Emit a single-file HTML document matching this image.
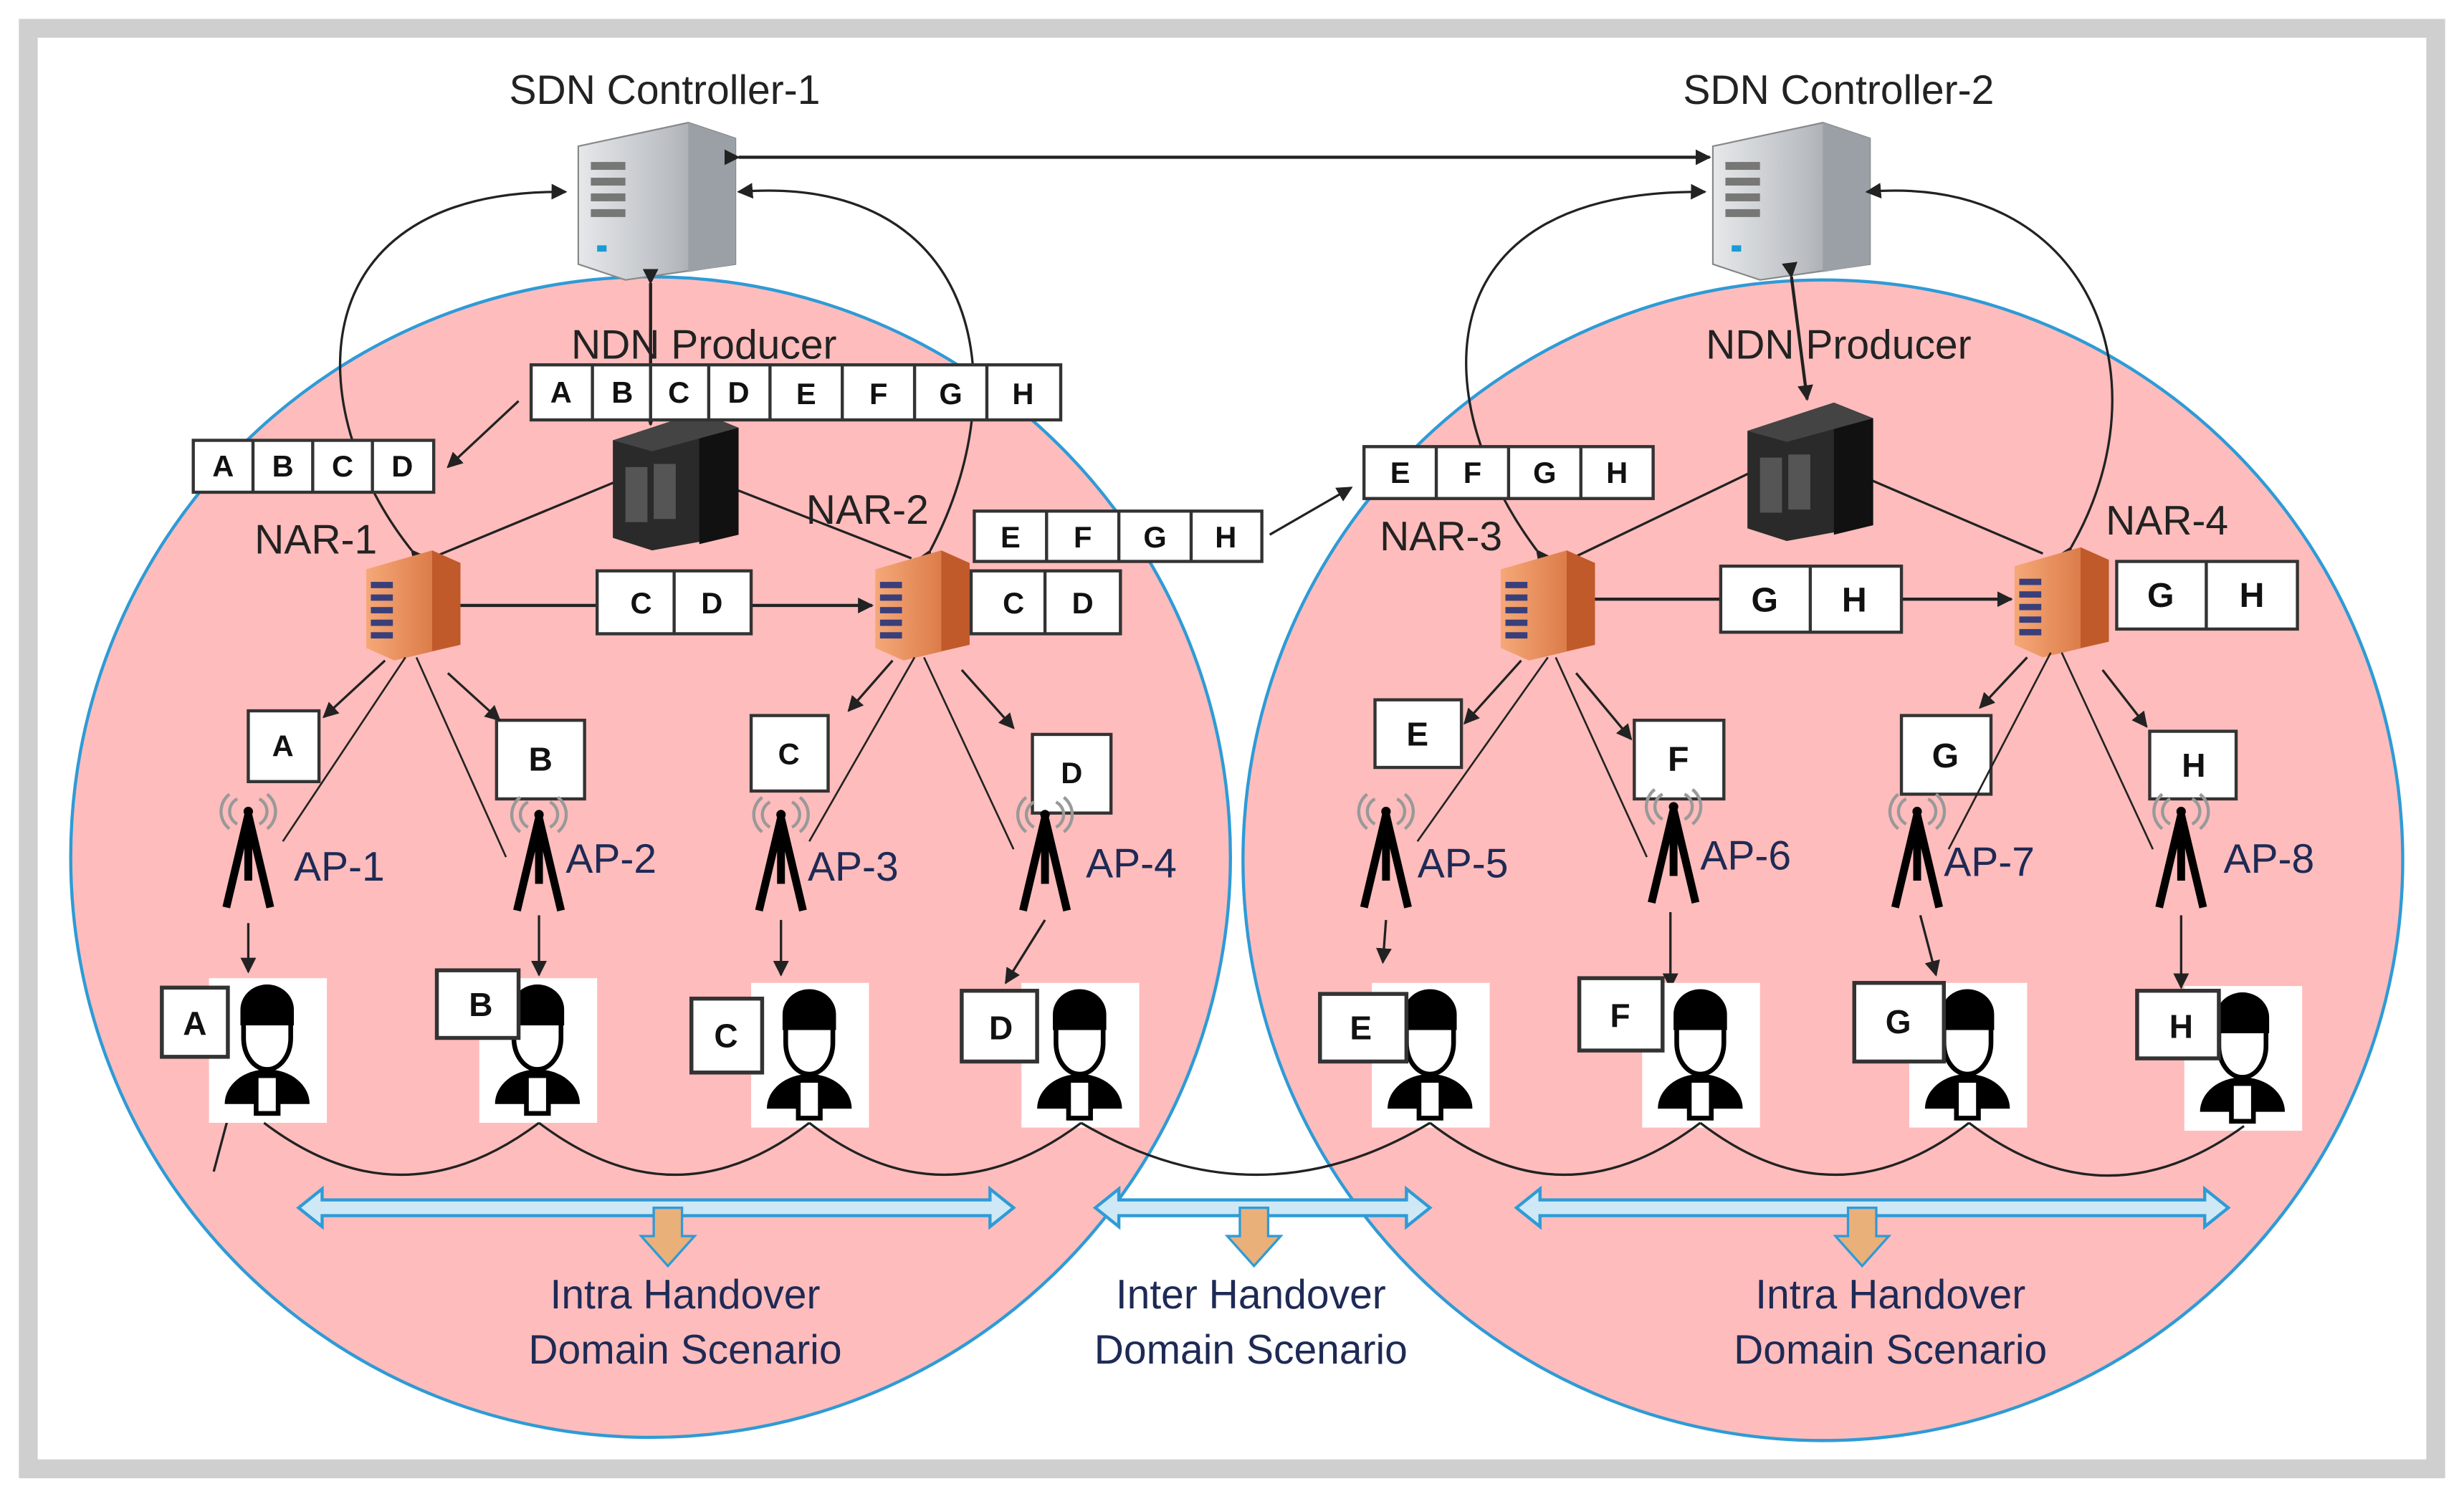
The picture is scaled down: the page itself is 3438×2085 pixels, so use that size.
<!DOCTYPE html>
<html><head><meta charset="utf-8">
<style>
html,body{margin:0;padding:0;background:#fff;}
svg{display:block;}
text{font-family:"Liberation Sans",Arial,sans-serif;}
</style></head>
<body>
<svg width="3438" height="2085" viewBox="0 0 1568 950" preserveAspectRatio="none" xmlns="http://www.w3.org/2000/svg">
<defs>
<marker id="ah" markerWidth="10" markerHeight="10" refX="9" refY="5" orient="auto" markerUnits="userSpaceOnUse">
<path d="M0,0 L10,5 L0,10 z" fill="#222"/></marker>
<linearGradient id="srv" x1="0" x2="1"><stop offset="0" stop-color="#e6e8ea"/><stop offset="0.6" stop-color="#b9bdc2"/><stop offset="1" stop-color="#8d9298"/></linearGradient>
<linearGradient id="org" x1="0" x2="1"><stop offset="0" stop-color="#f6a878"/><stop offset="1" stop-color="#d06a36"/></linearGradient>
<g id="sdn">
<path d="M0,15 L70,0 L100,10 L100,90 L30,100 L0,90 z" fill="url(#srv)" stroke="#888" stroke-width="1"/>
<path d="M70,0 L100,10 L100,90 L70,95 z" fill="#9aa0a6"/>
<rect x="8" y="25" width="22" height="5" fill="#777"/><rect x="8" y="35" width="22" height="5" fill="#777"/><rect x="8" y="45" width="22" height="5" fill="#777"/><rect x="8" y="55" width="22" height="5" fill="#777"/>
<rect x="12" y="78" width="6" height="4" fill="#1a9ad6"/>
</g>
<g id="blk">
<path d="M0,18 L55,0 L80,10 L80,78 L25,88 L0,80 z" fill="#2a2a2a"/>
<path d="M55,0 L80,10 L80,78 L55,84 z" fill="#111"/>
<path d="M0,18 L55,0 L80,10 L25,25 z" fill="#444"/>
<rect x="8" y="35" width="14" height="35" fill="#555"/><rect x="26" y="33" width="14" height="35" fill="#555"/>
</g>
<g id="nar">
<path d="M0,12 L42,0 L60,8 L60,60 L18,70 L0,62 z" fill="url(#org)"/>
<path d="M42,0 L60,8 L60,60 L42,64 z" fill="#c05a2a"/>
<rect x="3" y="20" width="14" height="4" fill="#3a3f7a"/><rect x="3" y="28" width="14" height="4" fill="#3a3f7a"/><rect x="3" y="36" width="14" height="4" fill="#3a3f7a"/><rect x="3" y="44" width="14" height="4" fill="#3a3f7a"/><rect x="3" y="52" width="14" height="4" fill="#3a3f7a"/>
</g>
<g id="tow">
<path d="M-12,-25 a14,14 0 0 0 0,22 M12,-25 a14,14 0 0 1 0,22 M-7,-22 a9,9 0 0 0 0,16 M7,-22 a9,9 0 0 1 0,16" fill="none" stroke="#999" stroke-width="2"/>
<circle cx="0" cy="-14" r="3" fill="#000"/>
<path d="M0,-12 L-14,47 M0,-12 L14,47 M0,-12 L0,30" stroke="#000" stroke-width="5" fill="none"/>
</g>
<g id="usr">
<rect x="0" y="0" width="75" height="92" fill="#fff"/>
<path d="M22,30 a15,18 0 0 1 30,0 l0,8 a15,20 0 0 1 -30,0 z" fill="#fff" stroke="#000" stroke-width="3"/>
<path d="M22,32 a15,20 0 0 1 30,0 l0,-2 a15,10 0 0 0 -30,0 z" fill="#000"/>
<path d="M20,20 a17,16 0 0 1 34,0 l0,10 l-34,0 z" fill="#000"/>
<path d="M10,80 a27,22 0 0 1 54,0 z" fill="#000"/>
<rect x="30" y="62" width="14" height="24" fill="#fff" stroke="#000" stroke-width="3"/>
</g>
</defs>

<rect x="0" y="0" width="1568" height="950" fill="#fff"/>
<rect x="18" y="18" width="1532" height="916" fill="#fff" stroke="#cfcfcf" stroke-width="12"/>

<circle cx="414" cy="545" r="369" fill="#ffbcbc" stroke="#2e9bd6" stroke-width="2"/>
<circle cx="1160" cy="547" r="369" fill="#ffbcbc" stroke="#2e9bd6" stroke-width="2"/>

<!-- SDN controllers -->
<text x="423" y="66" font-size="26" text-anchor="middle" fill="#222">SDN Controller-1</text>
<text x="1170" y="66" font-size="26" text-anchor="middle" fill="#222">SDN Controller-2</text>
<use href="#sdn" x="368" y="78"/>
<use href="#sdn" x="1090" y="78"/>
<line x1="470" y1="100" x2="1088" y2="100" stroke="#222" stroke-width="2" marker-start="url(#ah)" marker-end="url(#ah)"/>

<!-- curved SDN arrows -->
<path d="M262,350 C190,260 190,120 360,122" fill="none" stroke="#222" stroke-width="1.5" marker-start="url(#ah)" marker-end="url(#ah)"/>
<path d="M592,350 C650,240 620,110 470,122" fill="none" stroke="#222" stroke-width="1.5" marker-start="url(#ah)" marker-end="url(#ah)"/>
<path d="M978,350 C910,260 900,120 1085,122" fill="none" stroke="#222" stroke-width="1.5" marker-start="url(#ah)" marker-end="url(#ah)"/>
<path d="M1318,348 C1380,240 1330,110 1188,122" fill="none" stroke="#222" stroke-width="1.5" marker-start="url(#ah)" marker-end="url(#ah)"/>
<line x1="414" y1="180" x2="414" y2="270" stroke="#222" stroke-width="2" marker-start="url(#ah)" marker-end="url(#ah)"/>
<line x1="1140" y1="176" x2="1150" y2="254" stroke="#222" stroke-width="2" marker-start="url(#ah)" marker-end="url(#ah)"/>

<text x="448" y="228" font-size="26" text-anchor="middle" fill="#222">NDN Producer</text>
<text x="1170" y="228" font-size="26" text-anchor="middle" fill="#222">NDN Producer</text>

<!-- producer lines -->
<line x1="395" y1="305" x2="262" y2="360" stroke="#222" stroke-width="1.5"/>
<line x1="465" y1="310" x2="580" y2="355" stroke="#222" stroke-width="1.5"/>
<line x1="1115" y1="300" x2="990" y2="360" stroke="#222" stroke-width="1.5"/>
<line x1="1190" y1="305" x2="1300" y2="352" stroke="#222" stroke-width="1.5"/>
<use href="#blk" x="390" y="262"/>
<use href="#blk" x="1112" y="256"/>

<!-- NARs -->
<text x="162" y="352" font-size="26" fill="#222">NAR-1</text>
<text x="513" y="333" font-size="26" fill="#222">NAR-2</text>
<text x="878" y="350" font-size="26" fill="#222">NAR-3</text>
<text x="1340" y="340" font-size="26" fill="#222">NAR-4</text>
<line x1="293" y1="385" x2="555" y2="385" stroke="#222" stroke-width="2" marker-end="url(#ah)"/>
<line x1="1015" y1="381" x2="1280" y2="381" stroke="#222" stroke-width="2" marker-end="url(#ah)"/>
<use href="#nar" x="233" y="350"/>
<use href="#nar" x="557" y="350"/>
<use href="#nar" x="955" y="350"/>
<use href="#nar" x="1282" y="348"/>

<!-- letter box groups -->
<g fill="#fff" stroke="#333" stroke-width="2" font-size="18" font-weight="bold">
<rect x="338" y="232" width="337" height="35"/>
<line x1="377" y1="232" x2="377" y2="267"/><line x1="414" y1="232" x2="414" y2="267"/><line x1="451" y1="232" x2="451" y2="267"/><line x1="490" y1="232" x2="490" y2="267"/><line x1="536" y1="232" x2="536" y2="267"/><line x1="582" y1="232" x2="582" y2="267"/><line x1="628" y1="232" x2="628" y2="267"/>
<rect x="123" y="280" width="153" height="33"/>
<line x1="161" y1="280" x2="161" y2="313"/><line x1="199" y1="280" x2="199" y2="313"/><line x1="237" y1="280" x2="237" y2="313"/>
<rect x="380" y="363" width="98" height="40"/><line x1="429" y1="363" x2="429" y2="403"/>
<rect x="618" y="363" width="95" height="40"/><line x1="665" y1="363" x2="665" y2="403"/>
<rect x="620" y="325" width="183" height="32"/>
<line x1="666" y1="325" x2="666" y2="357"/><line x1="712" y1="325" x2="712" y2="357"/><line x1="758" y1="325" x2="758" y2="357"/>
<rect x="868" y="284" width="184" height="33"/>
<line x1="914" y1="284" x2="914" y2="317"/><line x1="960" y1="284" x2="960" y2="317"/><line x1="1006" y1="284" x2="1006" y2="317"/>
<rect x="1095" y="360" width="115" height="42"/><line x1="1152" y1="360" x2="1152" y2="402"/>
<rect x="1347" y="357" width="115" height="43"/><line x1="1404" y1="357" x2="1404" y2="400"/>
<rect x="158" y="452" width="45" height="45"/>
<rect x="316" y="458" width="56" height="50"/>
<rect x="478" y="455" width="49" height="48"/>
<rect x="657" y="467" width="50" height="50"/>
<rect x="875" y="445" width="55" height="43"/>
<rect x="1040" y="458" width="57" height="50"/>
<rect x="1210" y="455" width="57" height="50"/>
<rect x="1368" y="465" width="55" height="43"/>
</g>
<g font-size="19" font-weight="bold" fill="#111" text-anchor="middle">
<text x="357" y="256">A</text><text x="396" y="256">B</text><text x="432" y="256">C</text><text x="470" y="256">D</text><text x="513" y="257">E</text><text x="559" y="257">F</text><text x="605" y="257">G</text><text x="651" y="257">H</text>
<text x="142" y="303">A</text><text x="180" y="303">B</text><text x="218" y="303">C</text><text x="256" y="303">D</text>
<text x="408" y="390">C</text><text x="453" y="390">D</text>
<text x="645" y="390">C</text><text x="689" y="390">D</text>
<text x="643" y="348">E</text><text x="689" y="348">F</text><text x="735" y="348">G</text><text x="780" y="348">H</text>
<text x="891" y="307">E</text><text x="937" y="307">F</text><text x="983" y="307">G</text><text x="1029" y="307">H</text>
<text x="1123" y="389" font-size="22">G</text><text x="1180" y="389" font-size="22">H</text>
<text x="1375" y="386" font-size="22">G</text><text x="1433" y="386" font-size="22">H</text>
<text x="180" y="481">A</text><text x="344" y="490" font-size="21">B</text><text x="502" y="486">C</text><text x="682" y="498">D</text>
<text x="902" y="474" font-size="21">E</text><text x="1068" y="490" font-size="22">F</text><text x="1238" y="488" font-size="22">G</text><text x="1396" y="494" font-size="21">H</text>
</g>
<!-- small arrows -->
<g stroke="#222" stroke-width="1.5" marker-end="url(#ah)">
<line x1="330" y1="255" x2="285" y2="297"/>
<line x1="808" y1="340" x2="860" y2="310"/>
<line x1="245" y1="420" x2="206" y2="456"/><line x1="285" y1="428" x2="318" y2="458"/>
<line x1="568" y1="420" x2="540" y2="452"/><line x1="612" y1="426" x2="645" y2="463"/>
<line x1="968" y1="420" x2="932" y2="460"/><line x1="1003" y1="428" x2="1038" y2="470"/>
<line x1="1290" y1="418" x2="1260" y2="450"/><line x1="1338" y1="426" x2="1366" y2="462"/>
<line x1="158" y1="587" x2="158" y2="618"/><line x1="343" y1="582" x2="343" y2="620"/><line x1="497" y1="585" x2="497" y2="620"/><line x1="665" y1="585" x2="640" y2="625"/>
<line x1="882" y1="585" x2="880" y2="612"/><line x1="1063" y1="580" x2="1063" y2="628"/><line x1="1222" y1="582" x2="1232" y2="620"/><line x1="1388" y1="582" x2="1388" y2="628"/>
<line x1="136" y1="745" x2="148" y2="700"/>
</g>
<!-- NAR to AP lines -->
<g stroke="#222" stroke-width="1.2">
<line x1="258" y1="418" x2="180" y2="535"/><line x1="265" y1="418" x2="322" y2="545"/>
<line x1="582" y1="418" x2="515" y2="535"/><line x1="588" y1="418" x2="645" y2="540"/>
<line x1="985" y1="418" x2="902" y2="535"/><line x1="990" y1="418" x2="1048" y2="545"/>
<line x1="1305" y1="415" x2="1240" y2="540"/><line x1="1312" y1="415" x2="1370" y2="540"/>
</g>
<!-- towers -->
<use href="#tow" x="158" y="530"/><use href="#tow" x="343" y="532"/><use href="#tow" x="497" y="532"/><use href="#tow" x="665" y="532"/>
<use href="#tow" x="882" y="530"/><use href="#tow" x="1065" y="527"/><use href="#tow" x="1220" y="530"/><use href="#tow" x="1388" y="530"/>
<g font-size="26" fill="#1e2a55">
<text x="187" y="560">AP-1</text><text x="360" y="555">AP-2</text><text x="514" y="560">AP-3</text><text x="691" y="558">AP-4</text>
<text x="902" y="558">AP-5</text><text x="1082" y="553">AP-6</text><text x="1237" y="557">AP-7</text><text x="1415" y="555">AP-8</text>
</g>
<!-- users -->
<use href="#usr" x="133" y="622"/><use href="#usr" x="305" y="622"/><use href="#usr" x="478" y="625"/><use href="#usr" x="650" y="625"/>
<use href="#usr" x="873" y="625"/><use href="#usr" x="1045" y="625"/><use href="#usr" x="1215" y="625"/><use href="#usr" x="1390" y="627"/>
<g fill="#fff" stroke="#333" stroke-width="2.5">
<rect x="103" y="628" width="42" height="44"/><rect x="278" y="617" width="52" height="43"/><rect x="440" y="635" width="45" height="47"/><rect x="612" y="630" width="48" height="45"/>
<rect x="840" y="632" width="55" height="43"/><rect x="1005" y="622" width="53" height="46"/><rect x="1180" y="625" width="57" height="50"/><rect x="1360" y="630" width="52" height="43"/>
</g>
<g font-size="21" font-weight="bold" fill="#111" text-anchor="middle">
<text x="124" y="658">A</text><text x="306" y="646">B</text><text x="462" y="666">C</text><text x="637" y="661">D</text>
<text x="866" y="661">E</text><text x="1031" y="653">F</text><text x="1208" y="657">G</text><text x="1388" y="660">H</text>
</g>
<!-- arcs -->
<g fill="none" stroke="#222" stroke-width="1.5">
<path d="M168,714 Q255,780 343,714"/><path d="M343,714 Q430,780 515,714"/><path d="M515,714 Q600,780 688,714"/>
<path d="M688,714 Q800,780 910,714"/><path d="M910,714 Q995,780 1082,714"/><path d="M1082,714 Q1168,780 1253,714"/><path d="M1253,714 Q1340,780 1428,716"/>
</g>
<!-- double arrows -->
<g fill="#cfe8f6" stroke="#2e9bd6" stroke-width="2">
<path d="M190,768 L205,756 L205,763 L630,763 L630,756 L645,768 L630,780 L630,773 L205,773 L205,780 z"/>
<path d="M697,768 L712,756 L712,763 L895,763 L895,756 L910,768 L895,780 L895,773 L712,773 L712,780 z"/>
<path d="M965,768 L980,756 L980,763 L1403,763 L1403,756 L1418,768 L1403,780 L1403,773 L980,773 L980,780 z"/>
</g>
<g fill="#eab07a" stroke="#2e9bd6" stroke-width="1.5">
<path d="M416,768 L434,768 L434,786 L442,786 L425,805 L408,786 L416,786 z"/>
<path d="M789,768 L807,768 L807,786 L815,786 L798,805 L781,786 L789,786 z"/>
<path d="M1176,768 L1194,768 L1194,786 L1202,786 L1185,805 L1168,786 L1176,786 z"/>
</g>
<g font-size="26" fill="#1e2a55" text-anchor="middle">
<text x="436" y="832">Intra Handover</text><text x="436" y="867">Domain Scenario</text>
<text x="796" y="832">Inter Handover</text><text x="796" y="867">Domain Scenario</text>
<text x="1203" y="832">Intra Handover</text><text x="1203" y="867">Domain Scenario</text>
</g>
</svg>
</body></html>
